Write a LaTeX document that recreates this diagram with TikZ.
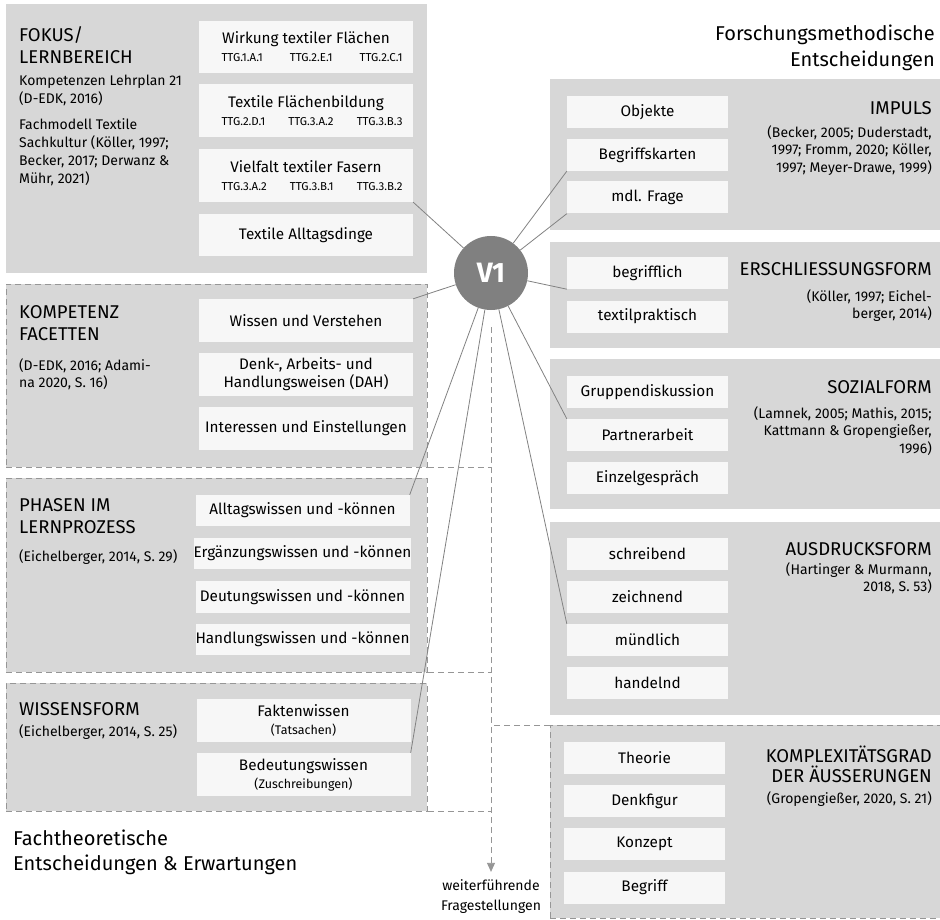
\documentclass[tikz,border=0pt]{standalone}
\usepackage{fontspec}
\setmainfont{Fira Sans}
\usetikzlibrary{arrows.meta,positioning,calc}
\definecolor{panelGray}{RGB}{215,215,215}
\definecolor{itemWhite}{RGB}{247,247,247}
\definecolor{hubGray}{RGB}{128,128,128}
\definecolor{linkGray}{RGB}{130,130,130}
\definecolor{dashGray}{RGB}{150,150,150}
% line of curriculum codes under a topic
\newcommand{\codes}[3]{\makebox[193pt][r]{\makebox[181pt]{\fontsize{11.5}{13}\selectfont #1\hfill #2\hfill #3}}}

\begin{document}
\begin{tikzpicture}[x=1pt,y=-1pt,
  panel/.style={fill=panelGray, anchor=north west, inner sep=0pt},
  dashpanel/.style={panel, draw=dashGray, dash pattern=on 6pt off 4pt, line width=0.8pt},
  item/.style={fill=itemWhite, inner sep=0pt, align=center, font=\fontsize{15.3}{18}\selectfont},
  litem/.style={item, minimum width=214pt},
  ritem/.style={item, minimum width=161pt, minimum height=32pt},
  head/.style={inner sep=0pt, font=\fontsize{18.5}{22}\selectfont},
  cite/.style={inner sep=0pt, font=\fontsize{14}{17.5}\selectfont},
  bigtitle/.style={inner sep=0pt, font=\fontsize{20}{26}\selectfont},
  link/.style={draw=linkGray, line width=0.8pt},
  flow/.style={draw=dashGray, line width=0.8pt, dash pattern=on 6pt off 4pt},
  >={Triangle[width=8pt,length=9pt]}
]
\path[use as bounding box, fill=white] (0,0) rectangle (940,920);

% left side: panels
\node[panel, minimum width=421pt, minimum height=269pt] (fokus) at (6,4) {};
\node[dashpanel, minimum width=421pt, minimum height=183pt] (kompetenz) at (6,284) {};
\node[dashpanel, minimum width=421pt, minimum height=194pt] (phasen) at (6,478) {};
\node[dashpanel, minimum width=421pt, minimum height=128pt] (wissensform) at (6,683) {};

% right side: panels
\node[panel, minimum width=392pt, minimum height=151pt] (impuls) at (550,79) {};
\node[panel, minimum width=392pt, minimum height=106pt] (erschliessung) at (550,242) {};
\node[panel, minimum width=392pt, minimum height=150pt] (sozial) at (550,359) {};
\node[panel, minimum width=392pt, minimum height=193pt] (ausdruck) at (550,522) {};
\node[dashpanel, minimum width=400pt, minimum height=193pt] (komplex) at (550,725) {};

% left panel texts
\node[head, anchor=north west, align=left] (fokusT) at (19,26) {FOKUS/\\LERNBEREICH};
\node[cite, anchor=north west, align=left, font=\fontsize{14}{18}\selectfont] (fokusC) at (19,75)
  {Kompetenzen Lehrplan 21\\(D-EDK, 2016)\\[8pt]Fachmodell Textile\\Sachkultur (Köller, 1997;\\Becker, 2017; Derwanz \&\\Mühr, 2021)};
\node[head, anchor=north west, align=left] (kompetenzT) at (19,305) {KOMPETENZ\\FACETTEN};
\node[cite, anchor=north west, align=left] (kompetenzC) at (19,358) {(D-EDK, 2016; Adami-\\na 2020, S. 16)};
\node[head, anchor=north west, align=left] (phasenT) at (19,498) {PHASEN IM\\LERNPROZESS};
\node[cite, anchor=north west] (phasenC) at (19,549) {(Eichelberger, 2014, S. 29)};
\node[head, anchor=north west] (wissensformT) at (19,702) {WISSENSFORM};
\node[cite, anchor=north west] (wissensformC) at (19,724) {(Eichelberger, 2014, S. 25)};

% left panel items
\node[litem, minimum height=52pt] (wirkung) at (306,47) {Wirkung textiler Flächen\\\codes{TTG.1.A.1}{TTG.2.E.1}{TTG.2.C.1}};
\node[litem, minimum height=53pt] (flaechen) at (306,110.5) {Textile Flächenbildung\\\codes{TTG.2.D.1}{TTG.3.A.2}{TTG.3.B.3}};
\node[litem, minimum height=53pt] (vielfalt) at (306,175.5) {Vielfalt textiler Fasern\\\codes{TTG.3.A.2}{TTG.3.B.1}{TTG.3.B.2}};
\node[litem, minimum height=42pt] (alltagsdinge) at (306,235) {Textile Alltagsdinge};
\node[litem, minimum height=43pt] (wissen) at (306,320.5) {Wissen und Verstehen};
\node[litem, minimum height=43pt] (denk) at (306,374.5) {Denk-, Arbeits- und\\Handlungsweisen (DAH)};
\node[litem, minimum height=43pt] (interessen) at (306,428.5) {Interessen und Einstellungen};
\node[litem, minimum height=31pt] (alltagswissen) at (302.5,510.5) {Alltagswissen und -können};
\node[litem, minimum height=31pt] (ergaenzung) at (302.5,553.5) {Ergänzungswissen und -können};
\node[litem, minimum height=32pt] (deutung) at (302.5,597) {Deutungswissen und -können};
\node[litem, minimum height=31pt] (handlung) at (302.5,639.5) {Handlungswissen und -können};
\node[litem, minimum height=43pt] (fakten) at (303.5,720.5) {Faktenwissen\\{\fontsize{12.5}{14}\selectfont(Tatsachen)}};
\node[litem, minimum height=43pt] (bedeutung) at (303.5,774.5) {Bedeutungswissen\\{\fontsize{12.5}{14}\selectfont(Zuschreibungen)}};

% right panel texts
\node[head, anchor=north east] (impulsT) at (932,101) {IMPULS};
\node[cite, anchor=north east, align=right] (impulsC) at (932,125)
  {(Becker, 2005; Duderstadt,\\1997; Fromm, 2020; Köller,\\1997; Meyer-Drawe, 1999)};
\node[head, anchor=north east] (erschliessungT) at (932,262) {ERSCHLIESSUNGSFORM};
\node[cite, anchor=north east, align=right] (erschliessungC) at (932,289)
  {(Köller, 1997; Eichel-\\berger, 2014)};
\node[head, anchor=north east] (sozialT) at (932,380) {SOZIALFORM};
\node[cite, anchor=north east, align=right] (sozialC) at (932,406)
  {(Lamnek, 2005; Mathis, 2015;\\Kattmann \& Gropengießer,\\1996)};
\node[head, anchor=north east] (ausdruckT) at (932,542) {AUSDRUCKSFORM};
\node[cite, anchor=north east, align=right] (ausdruckC) at (932,562)
  {(Hartinger \& Murmann,\\2018, S. 53)};
\node[head, anchor=north east, align=right, font=\fontsize{18.5}{19.5}\selectfont] (komplexT) at (932,746)
  {KOMPLEXITÄTSGRAD\\DER ÄUSSERUNGEN};
\node[cite, anchor=north east] (komplexC) at (932,791) {(Gropengießer, 2020, S. 21)};

% right panel items
\node[ritem] (objekte) at (647.5,112) {Objekte};
\node[ritem] (begriffskarten) at (647.5,155) {Begriffskarten};
\node[ritem] (frage) at (647.5,197.5) {mdl. Frage};
\node[ritem] (begrifflich) at (647.5,273) {begrifflich};
\node[ritem] (textil) at (647.5,316.5) {textilpraktisch};
\node[ritem] (gruppe) at (647.5,392) {Gruppendiskussion};
\node[ritem] (partner) at (647.5,435) {Partnerarbeit};
\node[ritem] (einzel) at (647.5,478) {Einzelgespräch};
\node[ritem] (schreibend) at (647.5,553.5) {schreibend};
\node[ritem] (zeichnend) at (647.5,597) {zeichnend};
\node[ritem] (muendlich) at (647.5,640) {mündlich};
\node[ritem] (handelnd) at (647.5,683) {handelnd};
\node[ritem] (theorie) at (644.5,757.5) {Theorie};
\node[ritem] (denkfigur) at (644.5,801) {Denkfigur};
\node[ritem] (konzept) at (644.5,844) {Konzept};
\node[ritem] (begriff) at (644.5,887.5) {Begriff};

% titles
\node[bigtitle, anchor=north east, align=right] (forschung) at (935,25) {Forschungsmethodische\\Entscheidungen};
\node[bigtitle, anchor=north west, align=left, font=\fontsize{20}{25}\selectfont] (fachtheorie) at (13,830)
  {Fachtheoretische\\Entscheidungen \& Erwartungen};
\node[inner sep=0pt, align=center, font=\fontsize{14}{20}\selectfont] (weiter) at (491,897) {weiterführende\\Fragestellungen};

% hub
\node[circle, fill=hubGray, minimum size=74pt, inner sep=0pt, text=white,
  font=\fontsize{28}{28}\selectfont\bfseries] (v1) at (491,273) {V1};

% connectors
\draw[link] (v1) -- (vielfalt.south east);
\draw[link] (v1) -- (wissen.north east);
\draw[link] (v1) -- (alltagswissen.north east);
\draw[link] (v1) -- (bedeutung.north east);
\draw[link] (v1) -- (begriffskarten.south west);
\draw[link] (v1) -- (frage.south west);
\draw[link] (v1) -- (begrifflich.south west);
\draw[link] (v1) -- (partner.north west);
\draw[link] (v1) -- (muendlich.north west);

% dashed guide lines
\draw[flow, ->, shorten <=17pt, shorten >=8pt] (v1.south) -- (weiter.north);
\draw[flow] (kompetenz.south east) -- (kompetenz.south east -| v1);
\draw[flow] (phasen.south east) -- (phasen.south east -| v1);
\draw[flow] (wissensform.south east) -- (wissensform.south east -| v1);
\draw[flow] (komplex.north west) -- (komplex.north west -| v1);
\end{tikzpicture}
\end{document}
